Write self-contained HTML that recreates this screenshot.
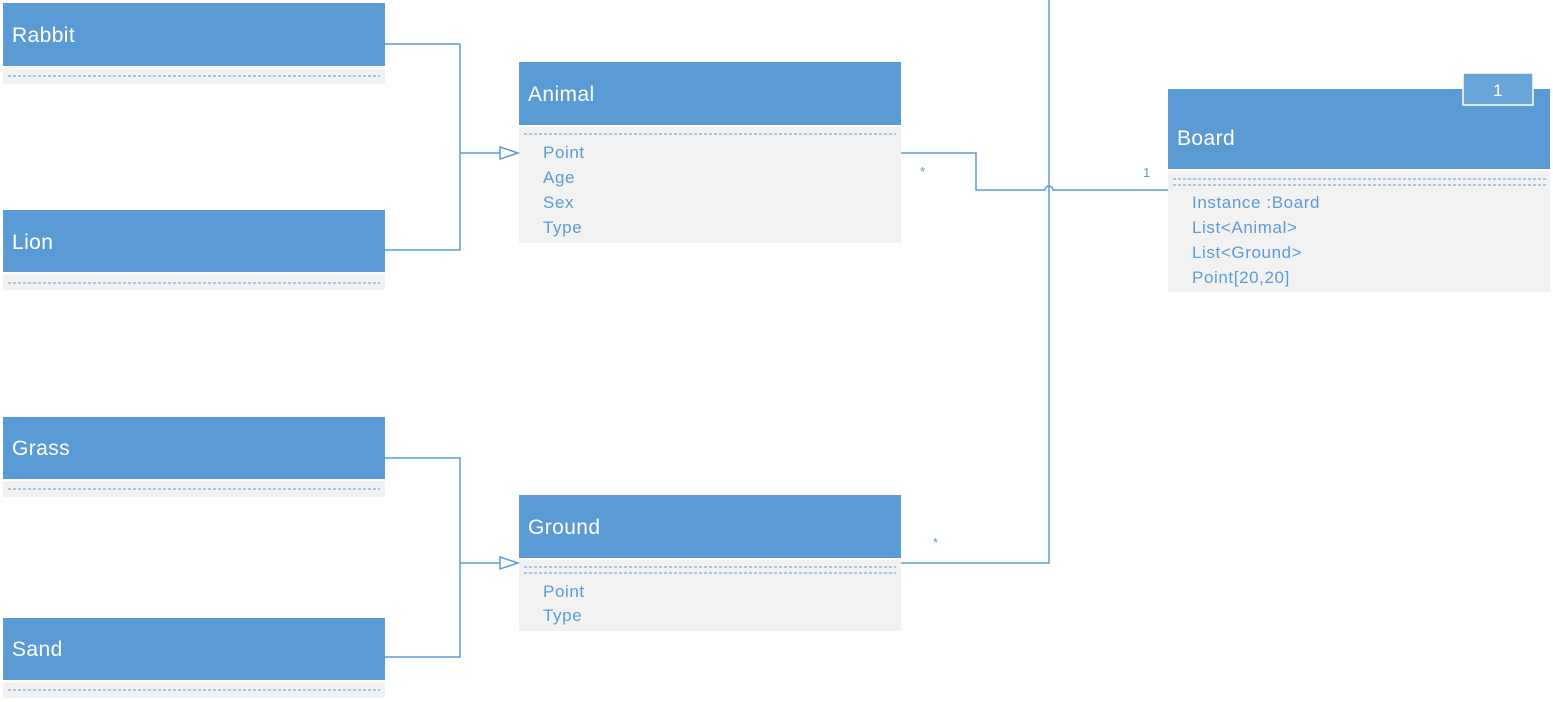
<!DOCTYPE html>
<html><head><meta charset="utf-8"><style>
html,body{margin:0;padding:0;background:#fff;width:1553px;height:702px;overflow:hidden}
svg{display:block}
.h{fill:#5B9BD5}
.b{fill:#F2F2F2}
.t{font-family:"Liberation Sans",sans-serif;font-size:21px;fill:#fff;letter-spacing:0.4px}
.a{font-family:"Liberation Sans",sans-serif;font-size:17px;fill:#5B9BD5;letter-spacing:0.6px}
.d{stroke:#5B9BD5;stroke-width:1;stroke-dasharray:3,2}
.l{stroke:#5B9BD5;stroke-width:1.5;fill:none}
</style></head><body>
<svg width="1553" height="702" xmlns="http://www.w3.org/2000/svg">
<rect class="h" x="3" y="3" width="382" height="63"/><rect class="b" x="3" y="67" width="382" height="17"/>
<line class="d" x1="8" y1="76" x2="380" y2="76"/><text class="t" x="12" y="42">Rabbit</text>
<rect class="h" x="3" y="210" width="382" height="62"/><rect class="b" x="3" y="274" width="382" height="16"/>
<line class="d" x1="8" y1="283" x2="380" y2="283"/><text class="t" x="12" y="249">Lion</text>
<rect class="h" x="3" y="417" width="382" height="62"/><rect class="b" x="3" y="481" width="382" height="16"/>
<line class="d" x1="8" y1="489" x2="380" y2="489"/><text class="t" x="12" y="455">Grass</text>
<rect class="h" x="3" y="618" width="382" height="62"/><rect class="b" x="3" y="682" width="382" height="16"/>
<line class="d" x1="8" y1="690" x2="380" y2="690"/><text class="t" x="12" y="656">Sand</text>
<rect class="h" x="519" y="62" width="382" height="63"/><rect class="b" x="519" y="127" width="382" height="116"/>
<line class="d" x1="524" y1="134" x2="896" y2="134"/><text class="t" x="528" y="101">Animal</text>
<text class="a" x="543" y="158">Point</text><text class="a" x="543" y="183">Age</text>
<text class="a" x="543" y="208">Sex</text><text class="a" x="543" y="233">Type</text>
<rect class="h" x="519" y="495" width="382" height="63"/><rect class="b" x="519" y="560" width="382" height="71"/>
<line class="d" x1="524" y1="567" x2="896" y2="567"/><line class="d" x1="524" y1="573" x2="896" y2="573"/>
<text class="t" x="528" y="534">Ground</text>
<text class="a" x="543" y="597">Point</text><text class="a" x="543" y="621">Type</text>
<rect class="h" x="1168" y="89" width="382" height="80"/><rect class="b" x="1168" y="171" width="382" height="121"/>
<line class="d" x1="1173" y1="179" x2="1546" y2="179"/><line class="d" x1="1173" y1="185" x2="1546" y2="185"/>
<text class="t" x="1177" y="145">Board</text>
<text class="a" x="1192" y="208">Instance :Board</text><text class="a" x="1192" y="233">List&lt;Animal&gt;</text>
<text class="a" x="1192" y="258">List&lt;Ground&gt;</text><text class="a" x="1192" y="283">Point[20,20]</text>
<rect x="1463" y="73" width="70" height="32" fill="#6AA5DA" stroke="#fff" stroke-width="1.5"/>
<text class="t" x="1498" y="96" text-anchor="middle" style="font-size:17px">1</text>
<polyline class="l" points="385,44 460,44 460,250 385,250"/>
<line class="l" x1="460" y1="153" x2="500" y2="153"/>
<polygon points="500,147 518,153 500,159" fill="#fff" stroke="#5B9BD5" stroke-width="1.5"/>
<polyline class="l" points="385,458 460,458 460,657 385,657"/>
<line class="l" x1="460" y1="563" x2="500" y2="563"/>
<polygon points="500,557 518,563 500,569" fill="#fff" stroke="#5B9BD5" stroke-width="1.5"/>
<path class="l" d="M901,153 H976 V190 H1045 A4,4 0 0 1 1053,190 H1168"/>
<polyline class="l" points="1049,0 1049,563 901,563"/>
<text class="a" x="920" y="176" style="font-size:13px">*</text>
<text class="a" x="1143" y="177" style="font-size:13px">1</text>
<text class="a" x="933" y="547" style="font-size:13px">*</text>
</svg>
</body></html>
